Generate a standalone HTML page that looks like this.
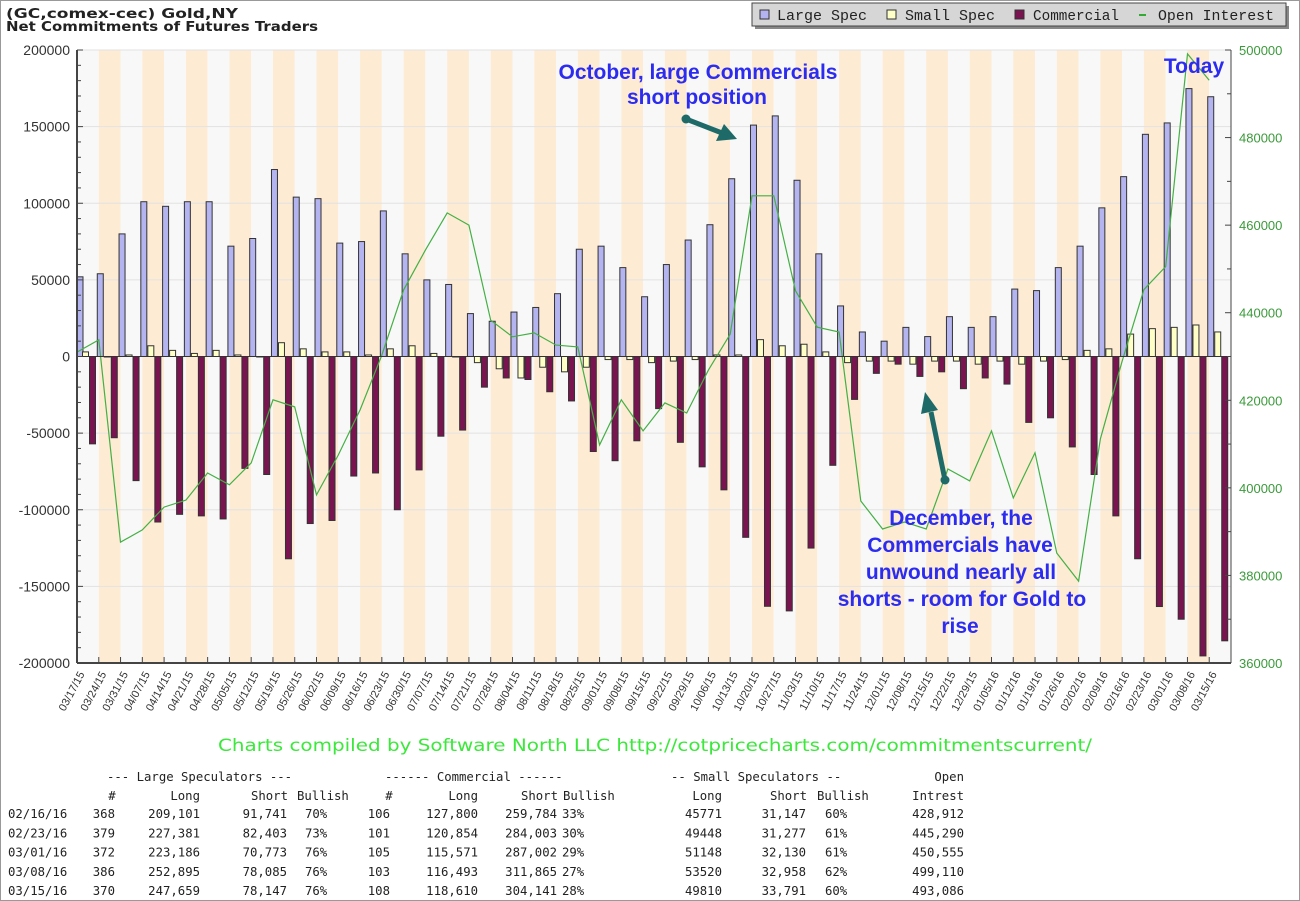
<!DOCTYPE html>
<html><head><meta charset="utf-8"><title>Gold COT</title>
<style>
html,body{margin:0;padding:0;background:#fff;}
svg{display:block;font-family:"Liberation Sans",sans-serif;}
</style></head>
<body>
<svg id="chart" width="1300" height="901" viewBox="0 0 1300 901">
<rect x="0" y="0" width="1300" height="901" fill="#fff"/>
<rect x="0.5" y="0.5" width="1299" height="900" fill="none" stroke="#999"/>
<g>
<text x="6" y="18" font-family="DejaVu Sans, sans-serif" font-weight="bold" font-size="13" fill="#222" textLength="232" lengthAdjust="spacingAndGlyphs">(GC,comex-cec) Gold,NY</text>
<text x="6" y="31" font-family="DejaVu Sans, sans-serif" font-weight="bold" font-size="13" fill="#222" textLength="312" lengthAdjust="spacingAndGlyphs">Net Commitments of Futures Traders</text>
</g>
<g>
<rect x="755" y="6" width="534" height="23" fill="#888"/>
<rect x="752" y="3" width="534" height="23" fill="#d6d6d6" stroke="#444"/>
<g><rect x="760" y="10" width="9" height="9" fill="#b4b4f0" stroke="#333"/><text x="777" y="20" font-family="Liberation Mono, monospace" font-size="15" fill="#222" textLength="90" lengthAdjust="spacingAndGlyphs">Large Spec</text></g>
<g><rect x="887" y="10" width="9" height="9" fill="#ffffc8" stroke="#333"/><text x="905" y="20" font-family="Liberation Mono, monospace" font-size="15" fill="#222" textLength="90" lengthAdjust="spacingAndGlyphs">Small Spec</text></g>
<g><rect x="1015" y="10" width="9" height="9" fill="#7a1450" stroke="#333"/><text x="1033" y="20" font-family="Liberation Mono, monospace" font-size="15" fill="#222" textLength="86" lengthAdjust="spacingAndGlyphs">Commercial</text></g>
<g><line x1="1139" y1="15" x2="1146" y2="15" stroke="#3a3" stroke-width="2"/><text x="1158" y="20" font-family="Liberation Mono, monospace" font-size="15" fill="#222" textLength="116" lengthAdjust="spacingAndGlyphs">Open Interest</text></g>
</g>
<g id="stripes"></g>
<g id="grid"></g>
<g id="bars"></g>
<polyline id="oi-line" fill="none" stroke="#44b044" stroke-width="1.2"/>
<g id="axes"></g>
<g id="xlabels"></g>
<g font-family="Liberation Sans, sans-serif" font-weight="bold" font-size="21" fill="#2c2cf0" text-anchor="middle">
<text x="698" y="79">October, large Commercials</text>
<text x="697" y="104">short position</text>
<text x="1194" y="73">Today</text>
<text x="961" y="525">December, the</text>
<text x="960" y="552">Commercials have</text>
<text x="961" y="579">unwound nearly all</text>
<text x="962" y="606">shorts - room for Gold to</text>
<text x="960" y="633">rise</text>
</g>
<g fill="#1e6a68" stroke="#1e6a68">
<circle cx="686" cy="119" r="4.5" stroke="none"/>
<line x1="686" y1="119" x2="722" y2="133" stroke-width="5"/>
<polygon points="737,139 716,141 724,124" stroke="none"/>
</g>
<g fill="#1e6a68" stroke="#1e6a68">
<circle cx="945" cy="480" r="4.5" stroke="none"/>
<line x1="945" y1="480" x2="931" y2="412" stroke-width="5"/>
<polygon points="925,392 921,414 938,410" stroke="none"/>
</g>
<text x="655" y="751" text-anchor="middle" font-family="DejaVu Sans, sans-serif" font-size="17" fill="#3be83b" textLength="874" lengthAdjust="spacingAndGlyphs">Charts compiled by Software North LLC  http://cotpricecharts.com/commitmentscurrent/</text>
<g id="table" font-family="DejaVu Sans Mono, monospace" font-size="12.3" fill="#222"></g>
</svg>
<script>
const categories = ["03/17/15","03/24/15","03/31/15","04/07/15","04/14/15","04/21/15","04/28/15","05/05/15","05/12/15","05/19/15","05/26/15","06/02/15","06/09/15","06/16/15","06/23/15","06/30/15","07/07/15","07/14/15","07/21/15","07/28/15","08/04/15","08/11/15","08/18/15","08/25/15","09/01/15","09/08/15","09/15/15","09/22/15","09/29/15","10/06/15","10/13/15","10/20/15","10/27/15","11/03/15","11/10/15","11/17/15","11/24/15","12/01/15","12/08/15","12/15/15","12/22/15","12/29/15","01/05/16","01/12/16","01/19/16","01/26/16","02/02/16","02/09/16","02/16/16","02/23/16","03/01/16","03/08/16","03/15/16"];
const largeSpec = [52000,54000,80000,101000,98000,101000,101000,72000,77000,122000,104000,103000,74000,75000,95000,67000,50000,47000,28000,23000,29000,32000,41000,70000,72000,58000,39000,60000,76000,86000,116000,151000,157000,115000,67000,33000,16000,10000,19000,13000,26000,19000,26000,44000,43000,58000,72000,97000,117360,144978,152413,174810,169512];
const smallSpec = [3000,0,1000,7000,4000,2000,4000,1000,0,9000,5000,3000,3000,1000,5000,7000,2000,0,-4000,-8000,-14000,-7000,-10000,-7000,-2000,-2000,-4000,-3000,-2000,1000,1000,11000,7000,8000,3000,-4000,-3000,-3000,-5000,-3000,-3000,-5000,-3000,-5000,-3000,-2000,4000,5000,14624,18171,19018,20562,16019];
const commercial = [-57000,-53000,-81000,-108000,-103000,-104000,-106000,-73000,-77000,-132000,-109000,-107000,-78000,-76000,-100000,-74000,-52000,-48000,-20000,-14000,-15000,-23000,-29000,-62000,-68000,-55000,-34000,-56000,-72000,-87000,-118000,-163000,-166000,-125000,-71000,-28000,-11000,-5000,-13000,-10000,-21000,-14000,-18000,-43000,-40000,-59000,-77000,-104000,-131984,-163149,-171431,-195372,-185531];
const openInterest = [431000,433800,387600,390400,395600,397200,403400,400700,405700,420100,418500,398400,407500,417800,430300,445200,454300,462800,460000,438300,434500,435400,432600,432200,409800,420100,413000,419400,417100,426900,435100,466700,466700,445000,436700,435600,397000,390600,392200,390600,404300,401600,413000,397700,408000,385100,378700,411200,428912,445290,450555,499110,493086];
const leftTicks = [200000,150000,100000,50000,0,-50000,-100000,-150000,-200000];
const rightTicks = [500000,480000,460000,440000,420000,400000,380000,360000];
const tableRows = [
 ["02/16/16","368","209,101","91,741","70%","106","127,800","259,784","33%","45771","31,147","60%","428,912"],
 ["02/23/16","379","227,381","82,403","73%","101","120,854","284,003","30%","49448","31,277","61%","445,290"],
 ["03/01/16","372","223,186","70,773","76%","105","115,571","287,002","29%","51148","32,130","61%","450,555"],
 ["03/08/16","386","252,895","78,085","76%","103","116,493","311,865","27%","53520","32,958","62%","499,110"],
 ["03/15/16","370","247,659","78,147","76%","108","118,610","304,141","28%","49810","33,791","60%","493,086"]
];

const NS="http://www.w3.org/2000/svg";
const PL=77, PR=1231, PT=50, PB=663;
const n=categories.length, cw=(PR-PL)/n;
const yL=v=>PT+(200000-v)/400000*(PB-PT);
const yR=v=>PT+(500000-v)/140000*(PB-PT);
const xC=i=>PL+cw*i;
function mk(tag,attrs,parent){const e=document.createElementNS(NS,tag);for(const k in attrs)e.setAttribute(k,attrs[k]);parent.appendChild(e);return e;}

const stripes=document.getElementById('stripes');
for(let i=0;i<n;i++){
  const r=mk('rect',{x:xC(i),y:PT,width:cw,height:PB-PT,fill:(i%2?'#fdebd4':'#f8f8f8')},stripes);
  
  
}
const grid=document.getElementById('grid');
leftTicks.forEach(t=>{
  const l=mk('line',{x1:PL,x2:PR,y1:yL(t),y2:yL(t),stroke:'#e2e2e2','stroke-width':1},grid);
  
  
});
const bars=document.getElementById('bars');
const bw=7;
function bar(v,x,fill,name){
  const y0=yL(0),y1=yL(v);
  const r=mk('rect',{x:x,y:Math.min(y0,y1),width:bw-1,height:Math.max(Math.abs(y1-y0),0.5),fill:fill,stroke:'#333','stroke-width':1},bars);
  
  
}
for(let i=0;i<n;i++){
  const gx=xC(i)-1.5;
  if(gx+bw>PL) bar(largeSpec[i],Math.max(gx,PL),'#b4b4f0','bar-large-spec');
  bar(smallSpec[i],gx+bw,'#ffffc8','bar-small-spec');
  bar(commercial[i],gx+2*bw,'#7a1450','bar-commercial');
}
document.getElementById('oi-line').setAttribute('points',openInterest.map((v,i)=>xC(i).toFixed(1)+','+yR(v).toFixed(1)).join(' '));

const axes=document.getElementById('axes');
mk('line',{x1:PL,x2:PR,y1:PB,y2:PB,stroke:'#444','stroke-width':2},axes);
mk('line',{x1:PL,x2:PL,y1:PT,y2:PB,stroke:'#444','stroke-width':2},axes);
mk('line',{x1:PR,x2:PR,y1:PT,y2:PB,stroke:'#444','stroke-width':1},axes);
mk('line',{x1:PL,x2:PR,y1:yL(0),y2:yL(0),stroke:'#333','stroke-width':1},axes);
for(let v=-200000;v<=200000;v+=10000){
  const major=v%50000===0;
  mk('line',{x1:PL,x2:PL+(major?6:4),y1:yL(v),y2:yL(v),stroke:'#444'},axes);
}
leftTicks.forEach(t=>{
  const tx=mk('text',{x:70,y:yL(t)+5,'text-anchor':'end','font-size':14,fill:'#333'},axes);
  tx.textContent=t;
  
  
});
for(let v=360000;v<=500000;v+=10000){
  mk('line',{x1:PR,x2:PR-(v%20000===0?6:4),y1:yR(v),y2:yR(v),stroke:'#444'},axes);
}
rightTicks.forEach(t=>{
  const tx=mk('text',{x:1239,y:yR(t)+5,'font-size':13,fill:'#3a9a3a'},axes);
  tx.textContent=t;
  
  
});
const xl=document.getElementById('xlabels');
for(let i=0;i<n;i++){
  mk('line',{x1:xC(i),x2:xC(i),y1:PB,y2:PB-6,stroke:'#444'},axes);
  const cx=xC(i)+cw/2-3, cy=674;
  const tx=mk('text',{x:cx,y:cy,'text-anchor':'end','font-size':11,fill:'#333',transform:'rotate(-62 '+cx+' '+cy+')'},xl);
  tx.textContent=categories[i];
  
  
}

const table=document.getElementById('table');
function tt(s,x,y,anchor,name){
  const t=mk('text',{x:x,y:y,'text-anchor':anchor||'start'},table);
  t.textContent=s;
  
  
}
tt('--- Large Speculators ---',107,781,'start','table-header');
tt('------ Commercial ------',385,781,'start','table-header');
tt('-- Small Speculators --',671,781,'start','table-header');
tt('Open',964,781,'end','table-header');
tt('#',112,800,'middle','table-header');
tt('Long',200,800,'end','table-header');
tt('Short',288,800,'end','table-header');
tt('Bullish',297,800,'start','table-header');
tt('#',389,800,'middle','table-header');
tt('Long',478,800,'end','table-header');
tt('Short',558,800,'end','table-header');
tt('Bullish',563,800,'start','table-header');
tt('Long',722,800,'end','table-header');
tt('Short',807,800,'end','table-header');
tt('Bullish',817,800,'start','table-header');
tt('Intrest',964,800,'end','table-header');
const colX=[[8,'start'],[115,'end'],[200,'end'],[287,'end'],[305,'start'],[390,'end'],[478,'end'],[557,'end'],[562,'start'],[722,'end'],[806,'end'],[825,'start'],[964,'end']];
tableRows.forEach((row,r)=>{
  const y=818+r*19.3;
  row.forEach((c,j)=>tt(c,colX[j][0],y,colX[j][1],'table-cell'));
});
</script>
</body></html>
